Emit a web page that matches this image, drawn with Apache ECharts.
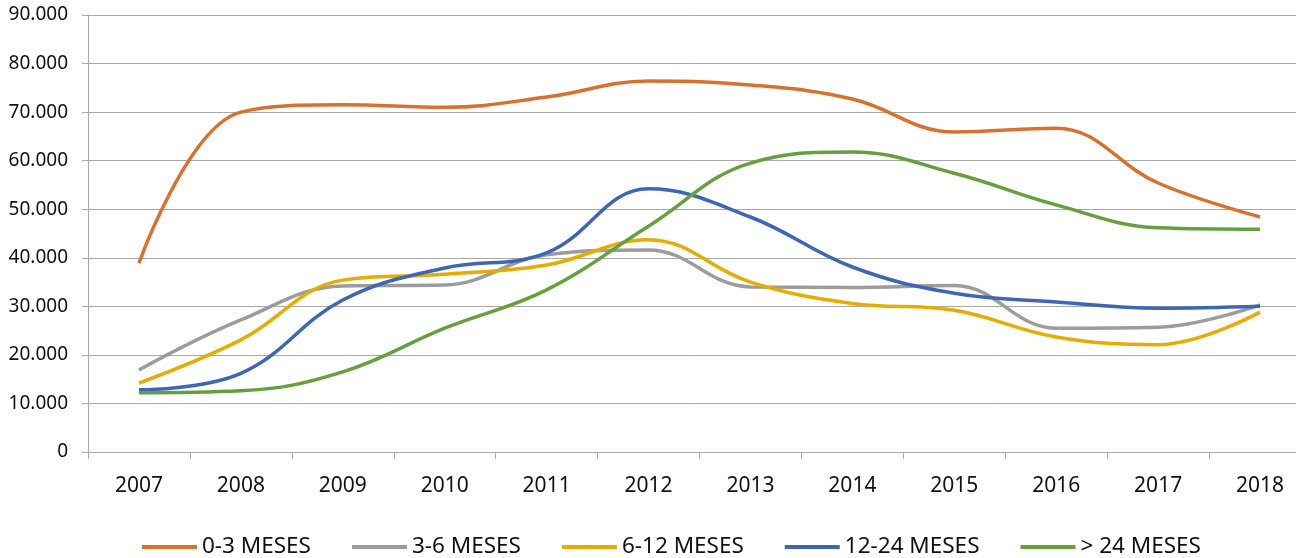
<!DOCTYPE html>
<html>
<head>
<meta charset="utf-8">
<script src="https://cdn.jsdelivr.net/npm/echarts@6/dist/echarts.min.js"></script>
<style>
html,body{margin:0;padding:0;background:#fff;}
#c{width:1296px;height:558px;}
</style>
</head>
<body>
<div id="c"></div>
<script>
var categories = ['2007','2008','2009','2010','2011','2012','2013','2014','2015','2016','2017','2018'];
var seriesNames = ['0-3 MESES','3-6 MESES','6-12 MESES','12-24 MESES','> 24 MESES'];
var m0_3   = [38900,70000,71500,71000,73100,76400,75600,72700,65900,66700,55400,48400];
var m3_6   = [16900,27200,34200,34400,40600,41600,34000,33900,34300,25500,25700,30300];
var m6_12  = [14200,23100,35400,36600,38500,43700,35000,30600,29200,23700,22100,28800];
var m12_24 = [12800,16200,31300,37900,41000,54200,48400,38100,32700,30900,29600,30000];
var m24    = [12200,12600,16500,25500,33400,46500,59500,61800,57400,50900,46200,45900];
var yTicks = {min:0, max:90000, interval:10000};

var colors = ['#D9712E','#9C9C9C','#E6AC00','#3D66B5','#66A03E'];
var dataSets = [m0_3, m3_6, m6_12, m12_24, m24];
var font = 'Noto Sans';
var gridColor = '#A9A9A9';

var series = seriesNames.map(function(n,i){
  return {
    name:n, type:'line', data:dataSets[i], smooth:0.4,
    symbol:'none', lineStyle:{width:3.5, color:colors[i]},
    itemStyle:{color:colors[i]}
  };
});

var chart = echarts.init(document.getElementById('c'));
chart.setOption({
  animation:false,
  color:colors,
  grid:{left:88, top:15, width:1223, height:437, containLabel:false, outerBoundsMode:'none'},
  legend:{
    data:seriesNames, left:137, top:528, icon:'rect',
    itemWidth:55, itemHeight:4, itemGap:41,
    textStyle:{fontFamily:font, fontSize:22.5, color:'#111', lineHeight:28}
  },
  xAxis:{
    type:'category', data:categories, boundaryGap:true,
    axisLine:{lineStyle:{color:gridColor, width:1}},
    axisTick:{show:true, length:7, lineStyle:{color:gridColor}},
    axisLabel:{fontFamily:font, fontSize:21, color:'#111', margin:24, lineHeight:21}
  },
  yAxis:{
    type:'value', min:yTicks.min, max:yTicks.max, interval:yTicks.interval,
    axisLine:{show:true, lineStyle:{color:gridColor, width:1}},
    axisTick:{show:true, length:6, lineStyle:{color:gridColor}},
    splitLine:{show:true, lineStyle:{color:gridColor, width:1}},
    axisLabel:{fontFamily:font, fontSize:19, color:'#111', margin:20,
      formatter:function(v){ return v===0 ? '0' : (v/1000).toFixed(3); }}
  },
  series:series
});
</script>
</body>
</html>
